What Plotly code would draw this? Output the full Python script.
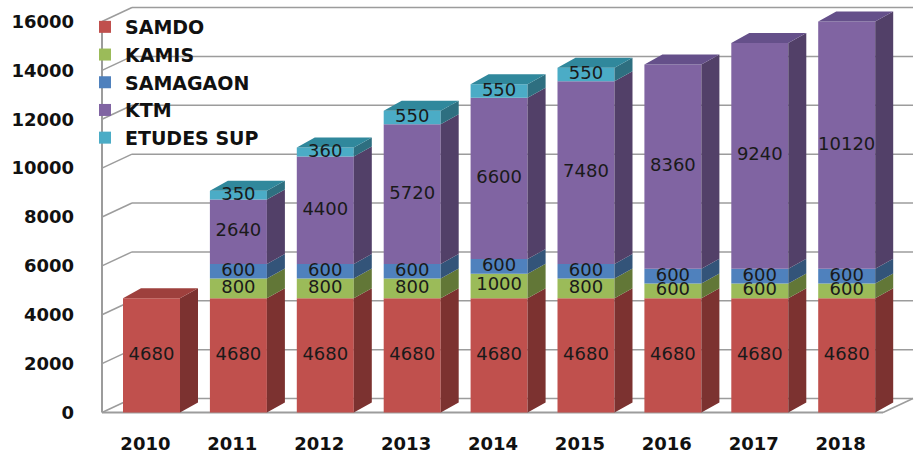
import plotly.graph_objects as go

# ---------------- data ----------------
years = ["2010", "2011", "2012", "2013", "2014", "2015", "2016", "2017", "2018"]
samdo = [4680, 4680, 4680, 4680, 4680, 4680, 4680, 4680, 4680]
kamis = [0, 800, 800, 800, 1000, 800, 600, 600, 600]
samagaon = [0, 600, 600, 600, 600, 600, 600, 600, 600]
ktm = [0, 2640, 4400, 5720, 6600, 7480, 8360, 9240, 10120]
etudes_sup = [0, 350, 360, 550, 550, 550, 0, 0, 0]
y_ticks = [0, 2000, 4000, 6000, 8000, 10000, 12000, 14000, 16000]

# name, values, front colour, side colour, top colour
series = [
    ("SAMDO", samdo, "#C0504D", "#7C3230", "#9E403D"),
    ("KAMIS", kamis, "#9BBB59", "#627737", "#7F9A47"),
    ("SAMAGAON", samagaon, "#4F81BD", "#335479", "#416C9F"),
    ("KTM", ktm, "#8064A2", "#524068", "#65508A"),
    ("ETUDES SUP", etudes_sup, "#4BACC6", "#2E6F80", "#30889C"),
]

# ---------------- geometry (pixel -> data) ----------------
W, H = 916, 455
L, R, T, B = 100, 1, 3, 39
pw, ph = W - L - R, H - T - B
px_x = 86.9                      # pixels per category
first_center = 151.5             # pixel centre of first bar
px_y = 391 / 16000               # pixels per unit
zero_px = 412.5
x_min = (L - first_center) / px_x
x_max = (W - R - first_center) / px_x
y_min = -((H - B) - zero_px) / px_y
y_max = (zero_px - T) / px_y

def dx(p):
    return p / px_x

def dy(p):
    return p / px_y

bar_w = dx(57)
bdx, bdy = dx(18), dy(10)        # bar depth
wdx, wdy = dx(30), dy(14)        # wall depth
wall_x0 = (102 - first_center) / px_x
wall_x1 = (913 - first_center) / px_x

xs = list(range(len(years)))

fig = go.Figure()

bases = [0] * len(years)
side_traces = []
label_x, label_y, label_t = [], [], []
top_of = [None] * len(years)
for name, vals, cf, cs, ct in series:
    b0 = list(bases)
    fig.add_trace(go.Bar(
        x=xs, y=[v if v else None for v in vals], base=b0, width=bar_w,
        name=name, marker=dict(color=cf, line=dict(width=0)),
        legendgroup=name, hoverinfo="skip", textposition="none",
    ))
    sx, sy = [], []
    for i, v in enumerate(vals):
        if not v:
            continue
        xr = i + bar_w / 2
        b = b0[i]
        sx += [xr, xr + bdx, xr + bdx, xr, xr, None]
        sy += [b, b + bdy, b + v + bdy, b + v, b, None]
        label_x.append(i)
        label_y.append(b + v / 2)
        label_t.append(str(v))
        top_of[i] = (b + v, ct)
        bases[i] = b + v
    side_traces.append(go.Scatter(x=sx, y=sy, mode="lines", fill="toself",
                                  fillcolor=cs, line=dict(width=0, color=cs),
                                  showlegend=False, hoverinfo="skip"))

for tr in side_traces:
    fig.add_trace(tr)

# top faces
tops = {}
for i, (t, ct) in enumerate(top_of):
    xl, xr = i - bar_w / 2, i + bar_w / 2
    tx, ty = tops.setdefault(ct, ([], []))
    tx += [xl, xl + bdx, xr + bdx, xr, xl, None]
    ty += [t, t + bdy, t + bdy, t, t, None]
for ct, (tx, ty) in tops.items():
    fig.add_trace(go.Scatter(x=tx, y=ty, mode="lines", fill="toself",
                             fillcolor=ct, line=dict(width=0, color=ct),
                             showlegend=False, hoverinfo="skip"))

# data labels
fig.add_trace(go.Scatter(
    x=label_x, y=label_y, text=label_t, mode="text",
    textfont=dict(family="DejaVu Sans", size=18, color="#1a1a1a"),
    showlegend=False, hoverinfo="skip", cliponaxis=False,
))

# walls & gridlines
gcol = "#9c9c9c"
shapes = []
for v in y_ticks:
    shapes.append(dict(type="line", xref="x", yref="y", x0=wall_x0, y0=v,
                       x1=wall_x0 + wdx, y1=v + wdy, layer="below",
                       line=dict(color=gcol, width=1.5)))
    shapes.append(dict(type="line", xref="x", yref="y", x0=wall_x0 + wdx, y0=v + wdy,
                       x1=wall_x1, y1=v + wdy, layer="below",
                       line=dict(color=gcol, width=1.5)))
shapes.append(dict(type="line", xref="x", yref="y", x0=wall_x0, y0=0,
                   x1=wall_x0, y1=y_ticks[-1], layer="below",
                   line=dict(color=gcol, width=2)))
shapes.append(dict(type="line", xref="x", yref="y", x0=wall_x0, y0=0,
                   x1=wall_x1 - wdx, y1=0, layer="below",
                   line=dict(color=gcol, width=2)))
shapes.append(dict(type="line", xref="x", yref="y", x0=wall_x1 - wdx, y0=0,
                   x1=wall_x1, y1=wdy, layer="below",
                   line=dict(color=gcol, width=1.5)))

fig.update_layout(
    template="none",
    width=W, height=H,
    margin=dict(l=L, r=R, t=T, b=B, pad=0),
    paper_bgcolor="white", plot_bgcolor="white",
    barmode="overlay",
    shapes=shapes,
    showlegend=True,
    legend=dict(
        x=(85 - L) / pw, y=1.0 - 5 / ph, xanchor="left", yanchor="top",
        traceorder="grouped", tracegroupgap=0,
        bgcolor="rgba(0,0,0,0)", borderwidth=0,
        font=dict(family="DejaVu Sans", size=19, color="#111", weight="bold"),
    ),
    xaxis=dict(range=[x_min, x_max], showgrid=False, zeroline=False, showline=False,
               automargin=False,
               tickvals=[i - 0.07 for i in xs], ticktext=years, ticks="",
               ticklabelstandoff=15,
               tickfont=dict(family="DejaVu Sans", size=18, color="#111", weight="bold")),
    yaxis=dict(range=[y_min, y_max], showgrid=False, zeroline=False, showline=False,
               automargin=False,
               tickvals=y_ticks, ticktext=[str(v) for v in y_ticks], ticks="",
               ticklabelstandoff=25,
               tickfont=dict(family="DejaVu Sans", size=18, color="#111", weight="bold")),
)

fig.write_html(
    "out.html",
    config={"displayModeBar": False},
    post_script="document.body.style.margin='0';document.body.style.overflow='hidden';",
)
